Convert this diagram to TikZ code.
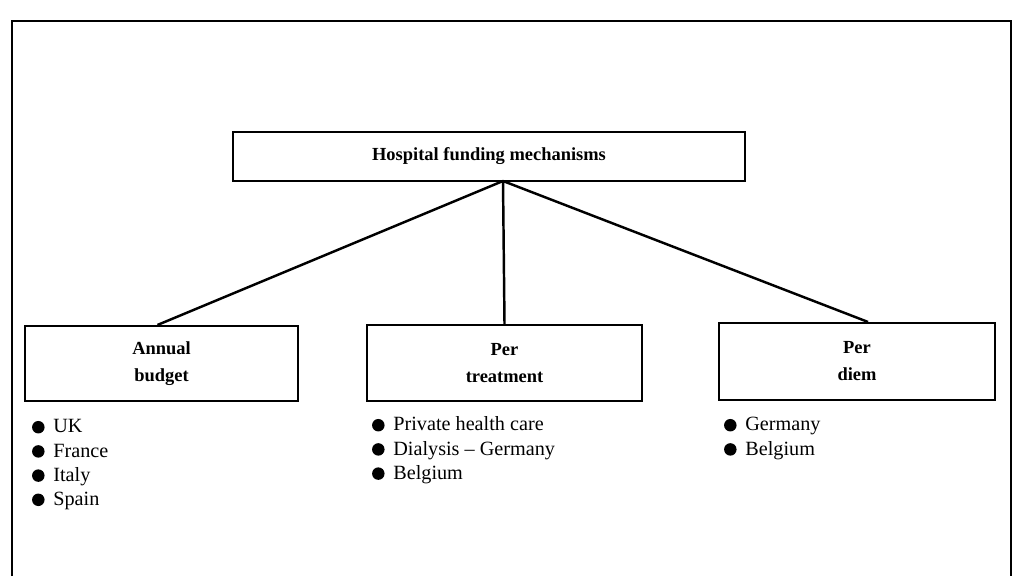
\documentclass[tikz,border=0pt]{standalone}
\usepackage{fontspec}
\setmainfont{Liberation Serif}
\usetikzlibrary{positioning}
\tikzstyle{block} = [rectangle, draw, line width=1.2pt, align=center, inner sep=0pt, font=\fontsize{10.5}{15.4}\selectfont\bfseries]
\tikzstyle{line} = [draw, line width=1.4pt]
\tikzstyle{bulletdot} = [circle, fill, inner sep=0pt, minimum size=0.25cm]
\tikzstyle{item} = [anchor=west, inner sep=0pt, text height=1.8ex, text depth=0.4ex, font=\fontsize{11.5}{14}\selectfont, label={[bulletdot, label distance=4.6pt]left:{}}]

\begin{document}
\begin{tikzpicture}[x=0.02cm, y=-0.02cm]
        \useasboundingbox (0,0) rectangle (1013,576);
        % Frame
        \draw[line width=0.9pt] (12,576) -- (12,21) -- (1011,21) -- (1011,576);

        % Nodes
        \node [block, minimum width=10.24cm, minimum height=0.98cm] (funding) at (489,156.5) {Hospital funding mechanisms};
        \coordinate (hub) at (503,181);
        \node [block, minimum width=5.46cm, minimum height=1.5cm] (annual) at (161.5,363.5) {Annual\\budget};
        \node [block, minimum width=5.5cm, minimum height=1.52cm] (treatment) at (504.5,363) {Per\\treatment};
        \node [block, minimum width=5.52cm, minimum height=1.54cm] (diem) at (857,361.5) {Per\\diem};

        % Lists
        \foreach \t [count=\i] in {UK, France, Italy, Spain}
            \node [item] (annual\i) at (53,403+24.2*\i) {\t};
        \foreach \t [count=\i] in {Private health care, Dialysis -- Germany, Belgium}
            \node [item] (treatment\i) at (393,401+24.2*\i) {\t};
        \foreach \t [count=\i] in {Germany, Belgium}
            \node [item] (diem\i) at (745,401+24.2*\i) {\t};

        % Lines
        \path [line] (hub) -- ([xshift=-0.08cm]annual.north);
        \path [line] (hub) -- (treatment.north);
        \path [line] (hub) -- ([xshift=0.22cm]diem.north);
    \end{tikzpicture}
\end{document}
